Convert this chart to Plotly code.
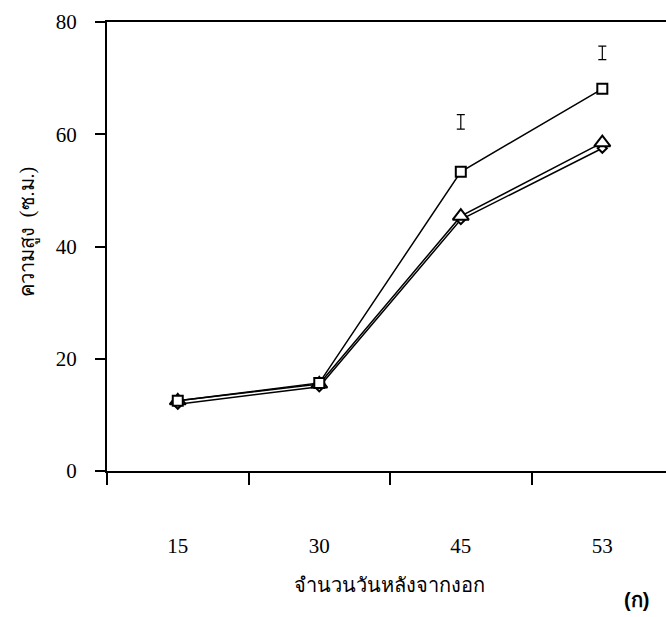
import plotly.graph_objects as go

days = ["15", "30", "45", "53"]
series_square = [12.5, 15.7, 53.3, 68.1]
series_triangle = [12.5, 15.5, 45.4, 58.5]
series_diamond = [11.9, 15.0, 44.8, 57.5]
lsd_center = [None, None, 62.2, 74.5]
lsd_half = [0, 0, 1.3, 1.2]

serif = "Liberation Serif, Times New Roman, serif"

fig = go.Figure()
line_style = dict(color="black", width=1.5)
fig.add_trace(go.Scatter(x=days, y=series_diamond, mode="lines+markers",
                         line=line_style,
                         marker=dict(symbol="diamond", size=7, color="white",
                                     line=dict(width=2, color="black")),
                         showlegend=False))
fig.add_trace(go.Scatter(x=days, y=series_triangle, mode="lines+markers",
                         line=line_style,
                         marker=dict(symbol="triangle-up", size=14, color="white",
                                     line=dict(width=2, color="black")),
                         showlegend=False))
fig.add_trace(go.Scatter(x=days, y=series_square, mode="lines+markers",
                         line=line_style,
                         marker=dict(symbol="square", size=10, color="white",
                                     line=dict(width=2, color="black")),
                         showlegend=False))
fig.add_trace(go.Scatter(x=days, y=lsd_center, mode="markers",
                         marker=dict(size=1, color="rgba(0,0,0,0)"),
                         error_y=dict(type="data", array=lsd_half, visible=True,
                                      color="black", thickness=1.2, width=4),
                         showlegend=False))

fig.update_layout(
    width=666, height=617,
    margin=dict(l=107, r=0, t=22, b=146),
    plot_bgcolor="white", paper_bgcolor="white",
    font=dict(family=serif, size=21, color="black"),
    xaxis=dict(
        type="category", range=[-0.5, 3.45],
        showline=True, linecolor="black", linewidth=2, mirror=True,
        ticks="outside", ticklen=12, tickwidth=2, tickcolor="black",
        tickson="boundaries", ticklabelstandoff=55,
        showgrid=False, zeroline=False,
        tickfont=dict(family=serif, size=21),
    ),
    yaxis=dict(
        range=[0, 80], dtick=20,
        showline=True, linecolor="black", linewidth=2,
        ticks="outside", ticklen=10, tickwidth=2, tickcolor="black",
        ticklabelstandoff=14,
        showgrid=False, zeroline=False,
        tickfont=dict(family=serif, size=21),
    ),
)

fig.add_annotation(text="จำนวนวันหลังจากงอก", xref="paper", yref="paper",
                   x=0.505, y=-0.254, showarrow=False,
                   font=dict(family=serif, size=20, color="black"),
                   xanchor="center", yanchor="middle")
fig.add_annotation(text="ความสูง  (ซ.ม.)", xref="paper", yref="paper",
                   x=-0.1413, y=0.532, showarrow=False, textangle=-90,
                   font=dict(family=serif, size=20, color="black"),
                   xanchor="center", yanchor="middle")
fig.add_annotation(text="<b>(ก)</b>", xref="paper", yref="paper",
                   x=0.948, y=-0.287, showarrow=False,
                   font=dict(family="Liberation Sans, Arial, sans-serif", size=20, color="black"),
                   xanchor="center", yanchor="middle")

fig.write_html("out.html")
